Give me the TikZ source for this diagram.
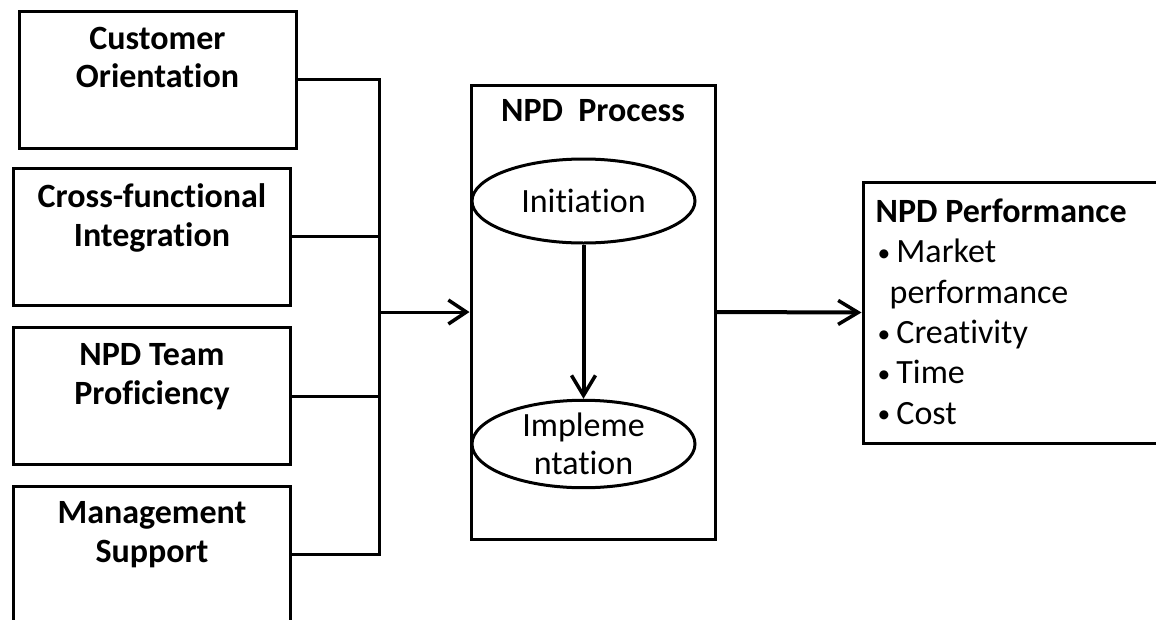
\documentclass[tikz,border=0pt]{standalone}
\usepackage{fontspec}
\usepackage{graphicx}
\setmainfont[RawFeature={-liga}]{Carlito}
\usetikzlibrary{arrows.meta,shapes.geometric}
\newcommand\mybul{\hspace{2pt}\raisebox{1.5pt}{\scalebox{0.75}{\textbullet}}\hspace{6pt}}
\begin{document}
\begin{tikzpicture}[x=1pt,y=1pt,
 box/.style={draw,line width=3pt,minimum width=277pt,minimum height=137pt,inner sep=0pt},
 lbl/.style={font=\fontsize{34}{39}\selectfont\bfseries,align=center,anchor=north,inner sep=0pt},
 oval/.style={draw,ellipse,line width=3pt,minimum width=223pt,minimum height=84pt,inner sep=0pt,font=\fontsize{34}{38}\selectfont,align=center},
 conn/.style={line width=3pt},
 arr/.style={line width=3pt,-{Straight Barb[length=18pt,width=24pt,line width=3.5pt]}},
 bigarr/.style={line width=4pt,-{Straight Barb[length=20pt,width=24pt,line width=3.5pt]}},
]
\clip (0,0) rectangle (1156,-619);
\fill[white] (0,0) rectangle (1156,-619);
% left boxes
\node[box] (b1) at (157.5,-79.5) {};
\node[box] (b2) at (152,-236.5) {};
\node[box] (b3) at (152,-396) {};
\node[box] (b4) at (152,-554.5) {};
\node[lbl] (t1) at ([yshift=-17pt]b1.north) {Customer\\Orientation};
\node[lbl] (t2) at ([yshift=-17pt]b2.north) {Cross-functional\\Integration};
\node[lbl] (t3) at ([yshift=-17pt]b3.north) {NPD Team\\Proficiency};
\node[lbl] (t4) at ([yshift=-17pt]b4.north) {Management\\Support};
% process box
\node[draw,line width=3pt,minimum width=244pt,minimum height=454pt,inner sep=0pt] (proc) at (593,-312) {};
\node[lbl] (ptitle) at ([yshift=-16pt]proc.north) {NPD\ \ Process};
\node[oval] (init) at (583.5,-201) {Initiation};
\node[oval] (impl) at (583.5,-444) {Impleme\\ntation};
% performance box
\node[draw,line width=3pt,minimum width=300pt,minimum height=261pt,inner sep=0pt] (perf) at (1013,-312.5) {};
\node[anchor=north west,inner sep=0pt,align=left,font=\fontsize{34}{40.4}\selectfont] (ptext) at ([xshift=14pt,yshift=-18pt]perf.north west)
 {\textbf{NPD Performance}\\\mybul Market\\\hspace{14pt}performance\\\mybul Creativity\\\mybul Time\\\mybul Cost};
% connectors
\coordinate (jn) at (379,-312);
\draw[conn] (b1.east) -| (jn);
\draw[conn] (b2.east) -| (jn);
\draw[conn] (b3.east) -| (jn);
\draw[conn] (b4.east) -| (jn);
\draw[arr] (jn) -- (proc.west);
\draw[bigarr] (proc.east) -- (perf.west);
\draw[bigarr] (init.south) -- (impl.north);
\end{tikzpicture}
\end{document}
